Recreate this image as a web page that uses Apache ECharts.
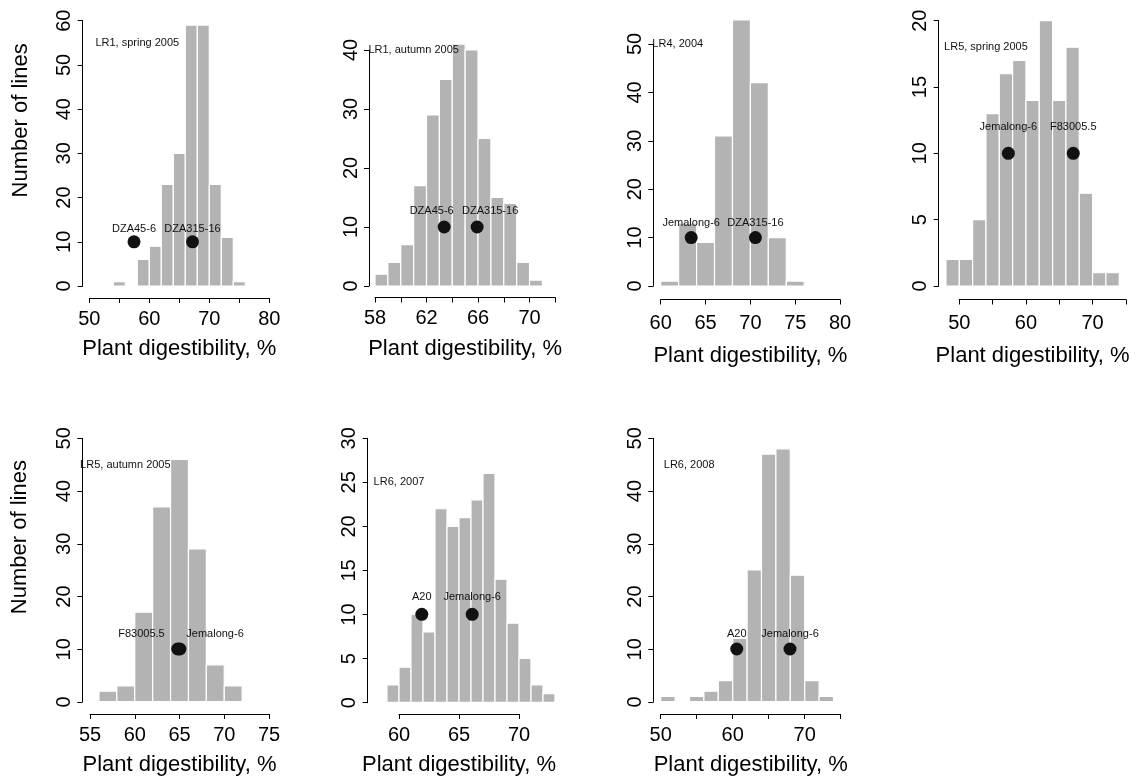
<!DOCTYPE html>
<html><head><meta charset="utf-8">
<script src="https://cdn.jsdelivr.net/npm/echarts@6/dist/echarts.min.js"></script>
<style>html,body{margin:0;padding:0;background:#fff}#c{width:1146px;height:777px}</style>
</head><body><div id="c"></div><script>
// ---------- DATA ----------
const panelTitles = ['LR1, spring 2005','LR1, autumn 2005','LR4, 2004','LR5, spring 2005','LR5, autumn 2005','LR6, 2007','LR6, 2008'];

// histogram bin edges and counts
const lr1SpringEdges  = [54,56,58,60,62,64,66,68,70,72,74,76];
const lr1SpringCounts = [1,0,6,9,23,30,59,59,23,11,1];
const lr1AutumnEdges  = [58,59,60,61,62,63,64,65,66,67,68,69,70,71];
const lr1AutumnCounts = [2,4,7,17,29,35,41,40,25,15,14,4,1];
const lr4Edges        = [60,62,64,66,68,70,72,74,76];
const lr4Counts       = [1,13,9,31,55,42,10,1];
const lr5SpringEdges  = [48,50,52,54,56,58,60,62,64,66,68,70,72,74];
const lr5SpringCounts = [2,2,5,13,16,17,14,20,14,18,7,1,1];
const lr5AutumnEdges  = [56,58,60,62,64,66,68,70,72];
const lr5AutumnCounts = [2,3,17,37,46,29,7,3];
const lr6y2007Edges   = [59,60,61,62,63,64,65,66,67,68,69,70,71,72,73];
const lr6y2007Counts  = [2,4,10,8,22,20,21,23,26,14,9,5,2,1];
const lr6y2008Edges   = [50,52,54,56,58,60,62,64,66,68,70,72,74];
const lr6y2008Counts  = [1,0,1,2,4,12,25,47,48,24,4,1];

// parental lines (points): names, x value, label x
const lr1SpringParents = ['DZA45-6','DZA315-16'];
const lr1SpringParentX = [57.45, 67.2];
const lr1SpringParentLabelX = [57.45, 67.2];
const lr1AutumnParents = ['DZA45-6','DZA315-16'];
const lr1AutumnParentX = [63.37, 65.93];
const lr1AutumnParentLabelX = [62.4, 66.94];
const lr4Parents = ['Jemalong-6','DZA315-16'];
const lr4ParentX = [63.4, 70.56];
const lr4ParentLabelX = [63.4, 70.56];
const lr5SpringParents = ['Jemalong-6','F83005.5'];
const lr5SpringParentX = [57.36, 67.1];
const lr5SpringParentLabelX = [57.36, 67.1];
const lr5AutumnParents = ['F83005.5','Jemalong-6'];
const lr5AutumnParentX = [64.8, 65.05];
const lr5AutumnParentLabelX = [60.75, 68.97];
const lr6y2007Parents = ['A20','Jemalong-6'];
const lr6y2007ParentX = [61.9, 66.1];
const lr6y2007ParentLabelX = [61.9, 66.1];
const lr6y2008Parents = ['A20','Jemalong-6'];
const lr6y2008ParentX = [60.56, 67.96];
const lr6y2008ParentLabelX = [60.56, 67.96];
const parentY = [10,10,10,10,10,10,10];
const parentLabelY = [12.8,12.8,13,12,12.8,12,12.8];

// panel title annotation positions (data coordinates)
const titleX = [58, 61, 61.9, 54, 58.95, 60, 53.95];
const titleY = [55, 40, 50, 18, 45, 25, 45];

// axes: x range, x tick interval, x tick labels, y max, y interval
const xMin = [50,58,60,50,55,60,50];
const xMax = [80,72,80,75,75,70,75];
const xInterval = [5,2,5,5,5,5,5];
const xTickLabels = [[50,60,70,80],[58,62,66,70],[60,65,70,75,80],[50,60,70],[55,60,65,70,75],[60,65,70],[50,60,70]];
const yMax = [60,40,50,20,50,30,50];
const yInterval = [10,10,10,5,10,5,10];

const xTitle = 'Plant digestibility, %';
const yTitle = 'Number of lines';

// ---------- LAYOUT (pixels) ----------
const layout = [
  {yx:82.7,  xl:89.3,  xr:269.3,  y0:286,   yt:20.7,  ax:298,   lm:11, ng:40},
  {yx:369,   xl:375,   xr:555.3,  y0:286,   yt:50,    ax:297.5, lm:11, ng:40},
  {yx:653.3, xl:660.7, xr:840.1,  y0:286,   yt:44,    ax:299.5, lm:14, ng:45},
  {yx:938.7, xl:959.3, xr:1125.9, y0:286,   yt:20.7,  ax:299.5, lm:14, ng:45, namePad:[0,20,0,0]},
  {yx:82.3,  xl:90,    xr:269,    y0:702,   yt:438.3, ax:714.3, lm:11, ng:40},
  {yx:367.7, xl:399,   xr:519,    y0:702.7, yt:438.3, ax:714.3, lm:11, ng:40},
  {yx:653.3, xl:660.7, xr:840.7,  y0:702,   yt:438.3, ax:714.3, lm:11, ng:40}
];

const panels = [
  {edges:lr1SpringEdges, counts:lr1SpringCounts, parents:lr1SpringParents, px:lr1SpringParentX, lx:lr1SpringParentLabelX},
  {edges:lr1AutumnEdges, counts:lr1AutumnCounts, parents:lr1AutumnParents, px:lr1AutumnParentX, lx:lr1AutumnParentLabelX},
  {edges:lr4Edges, counts:lr4Counts, parents:lr4Parents, px:lr4ParentX, lx:lr4ParentLabelX},
  {edges:lr5SpringEdges, counts:lr5SpringCounts, parents:lr5SpringParents, px:lr5SpringParentX, lx:lr5SpringParentLabelX},
  {edges:lr5AutumnEdges, counts:lr5AutumnCounts, parents:lr5AutumnParents, px:lr5AutumnParentX, lx:lr5AutumnParentLabelX},
  {edges:lr6y2007Edges, counts:lr6y2007Counts, parents:lr6y2007Parents, px:lr6y2007ParentX, lx:lr6y2007ParentLabelX},
  {edges:lr6y2008Edges, counts:lr6y2008Counts, parents:lr6y2008Parents, px:lr6y2008ParentX, lx:lr6y2008ParentLabelX}
];

const FONT = 'Liberation Sans, Arial, Helvetica, sans-serif';
const AX = '#000';
const grid = [], xAxis = [], yAxis = [], series = [];

panels.forEach((p, i) => {
  const L = layout[i];
  const gMain = 2*i, gY = 2*i+1;
  grid.push({left:L.xl, top:L.yt, width:L.xr-L.xl, height:L.y0-L.yt, containLabel:false});
  grid.push({left:L.yx, top:L.yt, width:1, height:L.y0-L.yt, containLabel:false});
  const labs = xTickLabels[i];
  xAxis.push({
    gridIndex:gMain, type:'value', min:xMin[i], max:xMax[i], interval:xInterval[i],
    position:'bottom', offset: L.ax - L.y0,
    axisLine:{show:true, onZero:false, lineStyle:{color:AX, width:1}},
    axisTick:{show:true, length:5, lineStyle:{color:AX}},
    axisLabel:{show:true, margin:L.lm, fontSize:20, color:'#000', fontFamily:FONT,
      formatter: v => labs.indexOf(v) >= 0 ? String(v) : ''},
    splitLine:{show:false},
    name:xTitle, nameLocation:'middle', nameGap:L.ng,
    nameTextStyle:{fontSize:22, color:'#000', fontFamily:FONT, padding:L.namePad || 0}
  });
  xAxis.push({gridIndex:gY, type:'value', min:0, max:1, show:false});
  yAxis.push({gridIndex:gMain, type:'value', min:0, max:yMax[i], show:false});
  const yOpt = {
    gridIndex:gY, type:'value', min:0, max:yMax[i], interval:yInterval[i], position:'left',
    axisLine:{show:true, onZero:false, lineStyle:{color:AX, width:1}},
    axisTick:{show:true, length:5, lineStyle:{color:AX}},
    axisLabel:{show:true, rotate:90, margin:8, fontSize:20, color:'#000', fontFamily:FONT},
    splitLine:{show:false}
  };
  if (i === 0 || i === 4) {
    yOpt.name = yTitle; yOpt.nameLocation = 'middle'; yOpt.nameGap = 51;
    yOpt.nameTextStyle = {fontSize:22, color:'#000', fontFamily:FONT, padding:[0,0,0,66]};
  }
  yAxis.push(yOpt);

  // histogram bars
  const bars = p.counts.map((c, k) => [p.edges[k], p.edges[k+1], c]);
  series.push({
    type:'custom', xAxisIndex:gMain, yAxisIndex:gMain, data:bars, clip:false, silent:true,
    encode:{x:[0,1], y:2},
    renderItem:(params, api) => {
      const a = api.coord([api.value(0), api.value(2)]);
      const b = api.coord([api.value(1), 0]);
      return {type:'rect', shape:{x:a[0], y:a[1], width:b[0]-a[0], height:b[1]-a[1]},
        style:{fill:'#b3b3b3', stroke:'#ffffff', lineWidth:1.2}};
    }
  });
  // parent points
  series.push({
    type:'scatter', xAxisIndex:gMain, yAxisIndex:gMain, clip:false, silent:true,
    symbol:'circle', symbolSize:13, itemStyle:{color:'#111111', opacity:1}, z:3,
    data: p.px.map((x, k) => [x, parentY[i]])
  });
  // text annotations (parent labels + panel title)
  const texts = p.lx.map((x, k) => [x, parentLabelY[i], p.parents[k]]);
  texts.push([titleX[i], titleY[i], panelTitles[i]]);
  series.push({
    type:'scatter', xAxisIndex:gMain, yAxisIndex:gMain, clip:false, silent:true, z:4,
    symbol:'circle', symbolSize:1, itemStyle:{color:'rgba(0,0,0,0)', opacity:1},
    label:{show:true, position:'inside', fontSize:11, color:'#111111', opacity:1, fontFamily:FONT,
      formatter: d => d.data[2]},
    labelLayout:{hideOverlap:false},
    data: texts
  });
});

const chart = echarts.init(document.getElementById('c'), null, {renderer:'canvas'});
chart.setOption({animation:false, backgroundColor:'#ffffff', grid, xAxis, yAxis, series});
</script></body></html>
